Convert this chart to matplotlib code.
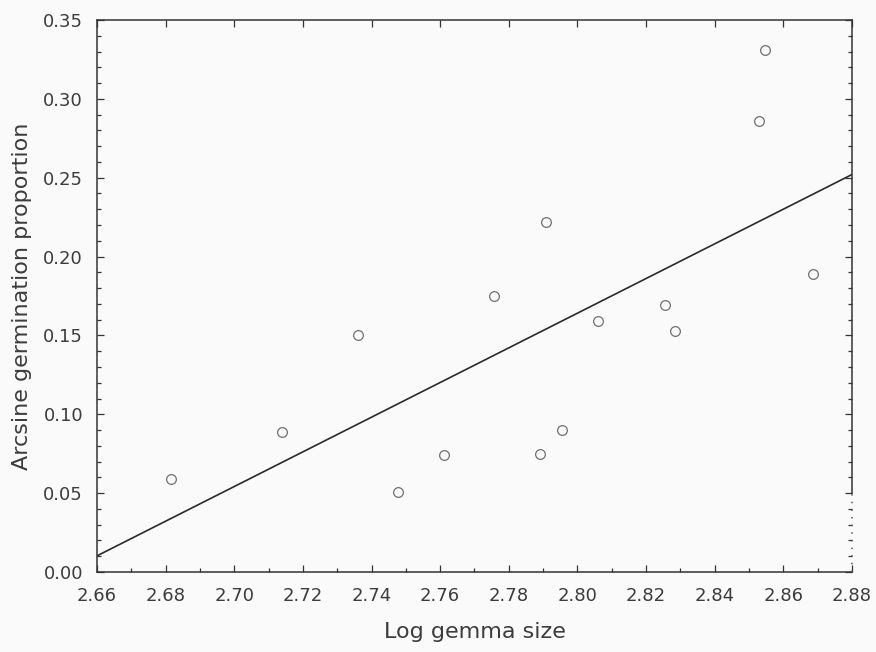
import numpy as np
import matplotlib
matplotlib.use("Agg")
import matplotlib.pyplot as plt
from matplotlib.ticker import MultipleLocator, FormatStrFormatter

# Log gemma size vs. arcsine-transformed germination proportion
log_gemma_size = [2.6816, 2.7139, 2.7360, 2.7477, 2.7611, 2.7757, 2.7891, 2.7908,
                  2.7955, 2.8060, 2.8255, 2.8284, 2.8529, 2.8546, 2.8686]
arcsine_germination = [0.059, 0.089, 0.150, 0.051, 0.074, 0.175, 0.075, 0.222,
                       0.090, 0.159, 0.169, 0.153, 0.286, 0.331, 0.189]

x_ticks = [2.66, 2.68, 2.70, 2.72, 2.74, 2.76, 2.78, 2.80, 2.82, 2.84, 2.86, 2.88]
y_ticks = [0.00, 0.05, 0.10, 0.15, 0.20, 0.25, 0.30, 0.35]

plt.rcParams['font.family'] = ['DejaVu Sans']

fig = plt.figure(figsize=(8.76, 6.52), dpi=100)
fig.patch.set_facecolor('#fafafa')
ax = fig.add_axes([0.1107, 0.1227, 0.8619, 0.8466])
ax.set_facecolor('#fafafa')

x = np.array(log_gemma_size)
y = np.array(arcsine_germination)

# least-squares regression line across the full x range
slope, intercept = np.polyfit(x, y, 1)
xl = np.array([x_ticks[0], x_ticks[-1]])
ax.plot(xl, slope * xl + intercept, color='#2a2a2a', lw=1.2, zorder=2)

ax.plot(x, y, linestyle='none', marker='o', markersize=7,
        markerfacecolor='none', markeredgecolor='#707070', markeredgewidth=0.9,
        zorder=3)

ax.set_xlim(x_ticks[0], x_ticks[-1])
ax.set_ylim(y_ticks[0], y_ticks[-1])
ax.set_xticks(x_ticks)
ax.set_yticks(y_ticks)
ax.xaxis.set_minor_locator(MultipleLocator(0.01))
ax.yaxis.set_minor_locator(MultipleLocator(0.01))
ax.xaxis.set_major_formatter(FormatStrFormatter('%.2f'))
ax.yaxis.set_major_formatter(FormatStrFormatter('%.2f'))

ax.tick_params(which='both', direction='in', top=True, right=True,
               color='#333333', width=0.9)
ax.tick_params(which='major', length=5, labelsize=13, labelcolor='#3c3c3c')
ax.tick_params(axis='y', which='major', pad=10)
ax.tick_params(axis='x', which='major', pad=11)
ax.tick_params(which='minor', length=3)
ax.tick_params(axis='x', which='minor', top=False)

for side in ax.spines.values():
    side.set_color('#333333')
    side.set_linewidth(1.1)

# right frame edge fades into a dotted stretch near the bottom
ax.spines['right'].set_bounds(0.05, 0.35)
ax.plot([1, 1], [0.0, 0.05], transform=ax.get_yaxis_transform(),
        color='#555555', lw=1.1, linestyle=(0, (1, 4)), clip_on=False, zorder=4)

ax.set_xlabel('Log gemma size', fontsize=16, color='#3c3c3c', labelpad=12)
ax.set_ylabel('Arcsine germination proportion', fontsize=16, color='#3c3c3c',
              labelpad=8)

fig.savefig('out.png', dpi=100, facecolor=fig.get_facecolor())
